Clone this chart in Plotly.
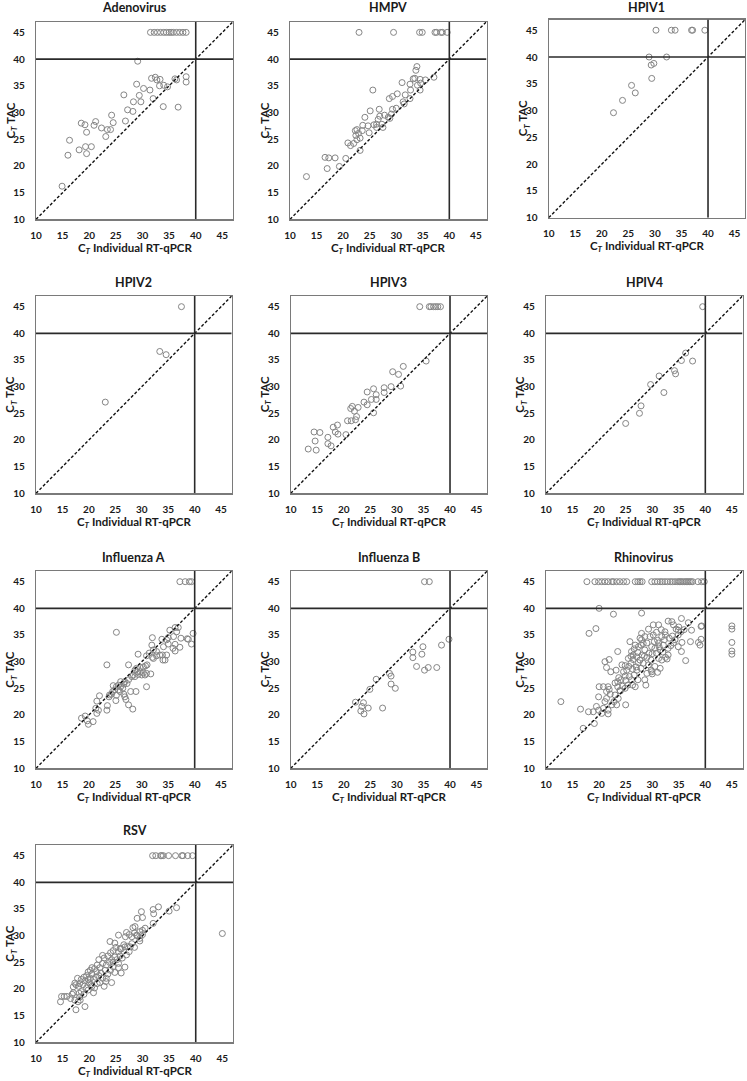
import plotly.graph_objects as go

# ---------------- data (Ct individual RT-qPCR, Ct TAC) ----------------
panel_names = ["Adenovirus", "HMPV", "HPIV1", "HPIV2", "HPIV3", "HPIV4",
               "Influenza A", "Influenza B", "Rhinovirus", "RSV"]

tick_vals = [10, 15, 20, 25, 30, 35, 40, 45]
axis_range = [10, 47]
cutoff = 40

adeno_pts = [(31.5, 45), (32.2, 45), (32.8, 45), (33.4, 45), (34.0, 45), (34.5, 45), (35.0, 45),
             (35.4, 45), (35.8, 45), (36.4, 45), (37.0, 45), (37.6, 45), (38.2, 45),
             (29.1, 39.6), (32.4, 36.6), (31.7, 36.4), (32.7, 36.1), (33.3, 36.2), (34.0, 35.1),
             (33.2, 35.0), (34.7, 34.8), (36.1, 36.3), (36.4, 36.1), (38.2, 36.7), (38.2, 35.7),
             (28.9, 35.3), (30.2, 34.5), (31.4, 34.2), (26.5, 33.3), (29.4, 33.2), (32.0, 32.6),
             (28.3, 32.0), (29.7, 32.0), (33.9, 31.1), (36.7, 31.0), (27.2, 30.5), (28.2, 30.2),
             (24.2, 29.5), (26.8, 28.4), (24.5, 28.1), (18.5, 28.0), (19.2, 27.7), (21.2, 28.3),
             (20.9, 27.6), (22.3, 27.1), (23.4, 26.8), (24.0, 26.8), (19.5, 26.3), (23.1, 25.5),
             (16.3, 24.8), (19.3, 23.6), (20.4, 23.6), (18.1, 23.0), (16.0, 22.0), (19.5, 22.3),
             (14.9, 16.2)]

hmpv_pts = [(23.0, 45), (29.5, 45), (34.4, 45), (34.9, 45), (37.3, 45), (37.6, 45), (38.4, 45),
            (38.7, 45), (39.6, 45),
            (33.9, 38.6), (33.7, 37.9), (33.5, 36.4), (33.2, 36.3), (35.5, 36.1), (34.5, 36.2),
            (37.1, 36.6), (31.1, 35.6), (34.6, 35.5), (32.6, 35.3), (34.0, 35.1), (25.6, 34.2),
            (32.7, 34.2), (34.5, 34.2), (31.7, 33.3), (30.2, 33.5), (29.3, 33.0), (28.7, 32.6),
            (32.6, 32.6), (31.3, 32.0), (31.5, 31.6), (25.1, 30.3), (30.0, 30.8), (29.3, 30.6),
            (26.8, 30.6), (29.1, 29.7), (27.8, 29.5), (26.9, 29.3), (26.6, 28.7), (24.1, 29.1),
            (28.5, 29.1), (28.8, 28.9), (23.7, 27.6), (24.7, 27.5), (25.8, 27.7), (26.3, 27.8),
            (27.3, 27.8), (27.5, 27.2), (26.3, 27.2), (24.9, 26.2), (22.6, 26.8), (22.3, 26.6),
            (23.6, 26.6), (22.9, 26.1), (22.4, 25.7), (23.2, 25.2), (22.6, 24.9), (22.0, 24.2),
            (20.9, 24.3), (21.4, 23.8), (23.2, 22.9), (16.6, 21.6), (17.3, 21.5), (18.5, 21.5),
            (20.5, 21.4), (17.0, 19.5), (19.3, 19.9), (13.1, 18.0)]

hpiv1_pts = [(30.2, 45), (33.1, 45), (33.8, 45), (36.9, 45), (37.1, 45), (39.4, 45),
             (28.9, 40.0), (32.2, 40.0), (29.8, 38.8), (29.3, 38.5), (29.4, 36.0), (25.6, 34.7),
             (26.3, 33.3), (23.9, 31.9), (22.2, 29.6)]

hpiv2_pts = [(37.5, 45), (33.4, 36.6), (34.6, 36.0), (23.1, 27.1)]

hpiv3_pts = [(34.3, 45), (36.1, 45), (36.4, 45), (36.9, 45), (37.3, 45), (37.7, 45), (38.2, 45),
             (35.5, 34.8), (31.2, 33.8), (29.2, 32.8), (30.3, 32.3), (30.7, 30.1), (28.9, 30.0),
             (27.6, 29.8), (27.6, 28.9), (25.6, 29.6), (24.4, 29.0), (26.1, 28.5), (26.1, 27.6),
             (25.2, 27.6), (23.8, 27.1), (24.4, 26.6), (21.6, 26.3), (21.3, 25.9), (22.7, 26.1),
             (22.0, 25.4), (25.6, 25.1), (22.4, 24.4), (22.2, 23.8), (20.7, 23.6), (21.4, 23.6),
             (20.4, 21.0), (18.8, 22.8), (18.0, 22.4), (18.9, 21.1), (18.4, 21.5), (14.4, 21.5),
             (15.5, 21.4), (17.0, 20.5), (17.0, 19.3), (17.6, 18.9), (14.6, 19.8), (14.8, 18.1),
             (13.3, 18.3)]

hpiv4_pts = [(39.5, 45), (36.3, 36.3), (35.5, 34.9), (37.6, 34.8), (34.2, 33.0), (34.4, 32.4),
             (31.3, 32.0), (29.7, 30.4), (32.2, 28.9), (27.9, 26.4), (27.6, 25.0), (25.0, 23.1)]

infa_pts = [(37.2, 45), (38.2, 45), (39.0, 45), (39.4, 45),
            (25.2, 35.5), (39.7, 35.3), (39.4, 33.3), (38.8, 34.2), (37.2, 32.7),
            (36.9, 36.4), (36.3, 36.4), (35.3, 35.9), (36.6, 35.6),
            (35.0, 34.5), (36.0, 34.7), (37.4, 34.4), (38.6, 34.3), (33.8, 34.2), (34.7, 34.1),
            (32.0, 34.5), (35.0, 33.3), (36.3, 33.25), (31.9, 33.1), (34.1, 32.8), (35.9, 32.5),
            (36.3, 32.0), (32.2, 32.2), (32.8, 31.9), (31.4, 31.6), (33.4, 31.25), (33.9, 31.25),
            (34.7, 31.25), (32.8, 31.1), (32.0, 30.8), (34.0, 30.3), (34.4, 30.3), (32.2, 30.6),
            (29.3, 31.4), (30.9, 31.1), (31.0, 29.4), (30.7, 29.2), (27.5, 29.4), (23.4, 29.4),
            (30.3, 29.0), (29.7, 28.9), (29.0, 28.75), (28.7, 28.4), (29.2, 28.1), (29.7, 28.1),
            (30.3, 27.9), (30.9, 27.8), (29.3, 27.6), (30.0, 27.5), (28.4, 27.5), (28.1, 27.2),
            (28.7, 27.2), (30.6, 27.5), (31.7, 27.7), (30.9, 25.3), (28.9, 24.4),
            (27.5, 26.6), (26.8, 26.25), (27.2, 25.9), (26.6, 25.8), (26.0, 26.25), (25.6, 25.6),
            (26.0, 25.3), (25.2, 25.3), (24.6, 25.5), (26.4, 25.0), (25.6, 24.7), (24.9, 24.7),
            (25.9, 24.4), (24.5, 24.4), (26.6, 23.9), (23.9, 23.75), (24.3, 23.9), (23.8, 23.4),
            (25.2, 23.7), (26.8, 23.4), (27.0, 22.9), (25.1, 22.7), (27.5, 21.9), (28.3, 21.1),
            (23.5, 21.75), (23.4, 20.9), (22.0, 23.6), (21.5, 22.6), (21.3, 21.25), (21.8, 20.9),
            (21.5, 20.3), (20.8, 18.75), (19.9, 18.25), (19.3, 19.8), (18.6, 19.4), (19.7, 18.9),
            (27.9, 24.4)]

infb_pts = [(35.2, 45), (36.1, 45), (39.8, 34.2), (38.4, 33.1), (34.9, 32.8), (33.0, 31.8),
            (34.7, 31.4), (33.0, 30.75), (33.7, 29.1), (35.2, 28.4), (35.9, 28.9), (37.5, 28.9),
            (28.6, 27.8), (28.9, 27.3), (28.9, 25.8), (29.7, 25.0), (26.1, 26.7), (24.9, 24.8),
            (22.2, 22.4), (23.7, 22.3), (23.4, 21.6), (24.6, 21.3), (23.2, 20.75), (23.8, 20.2),
            (27.3, 21.3)]

rhino_top_x = [17.7, 19.2, 19.9, 20.5, 21.1, 21.7, 22.4, 22.7, 23.3, 23.9, 24.6, 25.2, 26.8, 27.3,
               27.7, 28.1, 29.9, 30.5, 31.0, 31.5, 31.9, 32.4, 32.9, 33.4, 33.8, 34.3, 34.8, 35.1,
               35.4, 35.7, 36.1, 36.4, 36.7, 37.0, 37.3, 37.6, 38.6, 39.3, 39.8]
rhino_right_y = [36.7, 36.1, 33.6, 32.0, 31.4]
rhino_pts = [(20.0, 40.0), (22.7, 38.9), (28.0, 39.1), (18.1, 35.3), (19.4, 36.2), (12.8, 22.5),
             (16.5, 21.1), (17.0, 17.5), (19.1, 18.4), (18.0, 20.6), (18.9, 20.6), (19.9, 20.9),
             (20.5, 20.3), (19.5, 21.6), (20.8, 21.25), (21.7, 20.9), (21.7, 20.2), (23.3, 21.9),
             (25.0, 21.9), (19.9, 23.4), (21.1, 22.5), (22.4, 21.9), (21.4, 23.1), (20.0, 25.3),
             (20.8, 25.3), (21.7, 25.3), (21.9, 24.8), (21.4, 24.4), (22.1, 23.9), (23.0, 23.75),
             (23.6, 23.1), (23.9, 24.6), (23.5, 25.3), (24.4, 25.4), (24.9, 25.0), (25.4, 25.6),
             (21.1, 30.0), (21.9, 30.4), (21.4, 28.9), (22.2, 28.1), (23.2, 28.4), (23.5, 31.9),
             (24.3, 29.4), (24.9, 29.25), (24.6, 28.1), (24.9, 27.3), (23.7, 27.0), (23.5, 26.25),
             (24.1, 26.6), (25.8, 33.75), (26.1, 31.9), (25.5, 30.6), (26.4, 30.4), (26.0, 29.7),
             (26.6, 32.4), (27.1, 30.9), (27.4, 29.8), (26.3, 28.6), (27.1, 28.4), (26.6, 27.5),
             (25.7, 27.2), (26.1, 26.6), (26.3, 25.6), (26.8, 25.3), (27.3, 26.6), (28.0, 35.3),
             (27.7, 34.4), (28.3, 33.4), (28.6, 34.7), (29.3, 36.1), (30.2, 36.9), (31.2, 36.9),
             (28.6, 32.2), (28.1, 31.25), (29.0, 30.8), (29.4, 31.6), (29.8, 30.3), (27.7, 30.3),
             (28.3, 29.7), (27.9, 28.75), (29.3, 29.4), (29.0, 27.8), (29.9, 28.1), (28.6, 26.6),
             (28.8, 25.6), (29.8, 28.4), (30.4, 33.75), (30.8, 31.6), (31.3, 32.8), (31.8, 34.7),
             (31.7, 36.0), (32.4, 35.6), (32.1, 33.1), (31.2, 30.6), (30.5, 29.1), (31.5, 28.75),
             (31.8, 30.3), (32.5, 30.8), (33.0, 31.25), (33.0, 32.5), (32.3, 34.1), (33.2, 34.4),
             (32.5, 35.0), (33.0, 37.6), (33.7, 37.5), (34.0, 36.9), (34.5, 36.1), (34.9, 35.9),
             (35.5, 38.1), (35.4, 35.6), (34.9, 35.0), (34.3, 34.1), (35.6, 33.6), (34.9, 32.8),
             (35.5, 31.9), (36.8, 37.3), (37.4, 35.9), (39.2, 36.6), (39.3, 36.7), (37.2, 33.75),
             (38.7, 33.6), (39.2, 34.2), (39.0, 33.1), (36.3, 30.2), (27.4, 32.8), (26.8, 33.1),
             (28.0, 34.1), (29.6, 34.7), (29.9, 32.8), (30.5, 32.5), (31.5, 32.2), (27.3, 31.7),
             (26.4, 31.25), (25.2, 28.4), (25.6, 29.1), (27.9, 33.1), (31.0, 28.0), (30.0, 27.7),
             (32.8, 30.5), (33.5, 33.0), (34.0, 33.5), (30.2, 35.0), (29.0, 33.5), (28.5, 31.0),
             (30.0, 31.5), (31.0, 34.0), (32.0, 31.8), (33.8, 34.8), (35.0, 36.5), (36.0, 36.0),
             (26.0, 31.0), (27.0, 29.0), (25.0, 26.5), (24.0, 24.5), (22.8, 22.5), (23.0, 26.0),
             (30.8, 35.5), (31.2, 33.5)]

rsv_top_x = [31.9, 32.5, 33.4, 33.6, 33.9, 34.9, 36.2, 37.4, 37.6, 38.5, 39.4]
rsv_pts = [(45.0, 30.4),
           (36.4, 35.25), (35.0, 34.6), (33.0, 35.4), (32.0, 34.9), (32.1, 34.1), (29.8, 34.5),
           (30.0, 33.4), (29.0, 33.25), (32.0, 32.3), (30.5, 31.4), (29.5, 30.75), (28.6, 31.7),
           (28.0, 29.8), (27.0, 30.6), (25.5, 30.1), (26.8, 29.8), (29.5, 29.5), (28.9, 30.1),
           (23.9, 28.9), (24.8, 28.6), (26.7, 27.9), (25.8, 27.6), (27.7, 27.9), (27.0, 26.4),
           (26.7, 24.1), (25.5, 24.8), (24.8, 23.1), (23.1, 21.4), (21.4, 23.25), (20.8, 19.3),
           (20.3, 20.75), (18.1, 19.2), (17.5, 16.1), (19.2, 16.7), (14.8, 18.6), (15.3, 18.6),
           (15.8, 18.6), (14.6, 17.6), (17.0, 20.4), (17.3, 21.1), (17.0, 19.3), (18.3, 17.9),
           (17.3, 17.9), (17.9, 17.6),
           (28.2, 31.5), (28.5, 30.5), (29.0, 30.0), (30.0, 31.0), (27.5, 30.2), (28.0, 28.5),
           (27.2, 28.0), (26.5, 28.3), (26.0, 27.5), (25.5, 27.0), (25.0, 27.8), (24.5, 27.2),
           (24.0, 26.8), (24.8, 26.0), (25.2, 25.5), (24.2, 25.5), (23.5, 26.2), (23.8, 25.0),
           (23.2, 24.5), (24.5, 24.2), (22.8, 25.8), (22.5, 24.8), (22.0, 24.0), (23.0, 23.5),
           (22.2, 23.0), (21.5, 24.5), (21.0, 23.8), (21.8, 22.5), (21.2, 22.2), (20.5, 22.8),
           (20.8, 21.8), (20.2, 22.0), (20.0, 21.2), (19.5, 22.5), (19.8, 21.8), (19.2, 21.5),
           (19.0, 22.2), (18.5, 21.8), (18.8, 20.8), (18.2, 21.0), (18.0, 20.5), (19.5, 20.2),
           (20.5, 20.5), (21.5, 21.0), (22.5, 22.0), (23.5, 22.8), (24.0, 23.5), (17.8, 22.0),
           (17.5, 20.8), (18.5, 19.5), (19.0, 19.0), (19.8, 19.8), (21.0, 20.2), (22.0, 21.2),
           (24.5, 25.0), (25.8, 26.2), (26.2, 25.8), (27.5, 27.0), (28.5, 27.8), (29.5, 29.0),
           (30.0, 30.2), (22.5, 26.3), (21.8, 25.5), (20.5, 24.0), (23.2, 22.0), (24.2, 21.2),
           (25.5, 24.0), (26.0, 23.0), (22.8, 20.5), (19.8, 23.2), (20.2, 23.5), (18.2, 18.5),
           (16.8, 19.0), (16.5, 18.2)]

series = {
    "Adenovirus": adeno_pts,
    "HMPV": hmpv_pts,
    "HPIV1": hpiv1_pts,
    "HPIV2": hpiv2_pts,
    "HPIV3": hpiv3_pts,
    "HPIV4": hpiv4_pts,
    "Influenza A": infa_pts,
    "Influenza B": infb_pts,
    "Rhinovirus": [(x, 45) for x in rhino_top_x] + [(45, y) for y in rhino_right_y] + rhino_pts,
    "RSV": [(x, 45) for x in rsv_top_x] + rsv_pts,
}

# ---------------- layout (pixel boxes of each plot area) ----------------
W, H = 747, 1081
boxes = {  # left, right, top, bottom in pixels
    "Adenovirus": (36, 233, 21.7, 219.3),
    "HMPV": (290, 486.5, 21.7, 219.3),
    "HPIV1": (548.7, 745.2, 19.5, 217.7),
    "HPIV2": (36, 231.7, 296, 493.3),
    "HPIV3": (290.7, 487.2, 296, 493.3),
    "HPIV4": (546, 742.5, 296, 493.3),
    "Influenza A": (36, 231.7, 571, 768.3),
    "Influenza B": (290.7, 487.2, 571, 768.3),
    "Rhinovirus": (546, 742.5, 571, 768.3),
    "RSV": (36, 233, 845, 1042.3),
}

FONT = "Lato"
TXT = "#1a1a1a"
MARK = "#858585"
FRAME = "#7a7a7a"


def px(x):
    return x / W


def py(y):
    return 1 - y / H


fig = go.Figure()
shapes = []
annotations = []
layout_axes = {}

for i, name in enumerate(panel_names, start=1):
    pts = series[name]
    xs = [p[0] for p in pts]
    ys = [p[1] for p in pts]
    xa = "x" if i == 1 else f"x{i}"
    ya = "y" if i == 1 else f"y{i}"
    fig.add_trace(go.Scatter(
        x=xs, y=ys, mode="markers", xaxis=xa, yaxis=ya, showlegend=False,
        marker=dict(symbol="circle-open", size=6, color=MARK, line=dict(width=1, color=MARK)),
        hoverinfo="skip"))
    L, R, T, B = boxes[name]
    axcommon = dict(range=axis_range, tickmode="array", tickvals=tick_vals,
                    showgrid=False, zeroline=False, showline=True, mirror=True,
                    linecolor=FRAME, linewidth=1.2, ticks="", automargin=False,
                    fixedrange=True,
                    tickfont=dict(family=FONT, size=10, color=TXT, weight="bold"))
    layout_axes["xaxis" if i == 1 else f"xaxis{i}"] = dict(
        axcommon, domain=[px(L), px(R)], anchor=ya, ticklabelstandoff=6)
    layout_axes["yaxis" if i == 1 else f"yaxis{i}"] = dict(
        axcommon, domain=[py(B), py(T)], anchor=xa, ticklabelstandoff=8)

    # reference lines
    shapes.append(dict(type="line", xref=xa, yref=ya, x0=axis_range[0], y0=axis_range[0],
                       x1=axis_range[1], y1=axis_range[1],
                       line=dict(color="#111111", width=1.4, dash="3px,2px")))
    shapes.append(dict(type="line", xref=xa, yref=ya, x0=cutoff, x1=cutoff,
                       y0=axis_range[0], y1=axis_range[1], line=dict(color="#2a2a2a", width=1.6)))
    shapes.append(dict(type="line", xref=xa, yref=ya, y0=cutoff, y1=cutoff,
                       x0=axis_range[0], x1=axis_range[1], line=dict(color="#2a2a2a", width=1.6)))

    cx = (L + R) / 2
    cy = (T + B) / 2
    annotations.append(dict(text=f"<b>{name}</b>", xref="paper", yref="paper",
                            x=px(cx), y=py(max(T - 14, 7.5)), xanchor="center", yanchor="middle",
                            showarrow=False, font=dict(family=FONT, size=12.5, color=TXT)))
    annotations.append(dict(text="<b>C<sub><i>T</i></sub> Individual RT-qPCR</b>", xref="paper",
                            yref="paper", x=px(cx), y=py(B + 29), xanchor="center",
                            yanchor="middle", showarrow=False,
                            font=dict(family=FONT, size=11.5, color=TXT)))
    annotations.append(dict(text="<b>C<sub><i>T</i></sub> TAC</b>", xref="paper", yref="paper",
                            x=px(L - 25), y=py(cy), xanchor="center", yanchor="middle",
                            textangle=-90, showarrow=False,
                            font=dict(family=FONT, size=11.5, color=TXT)))

fig.update_layout(
    width=W, height=H, margin=dict(l=0, r=0, t=0, b=0),
    paper_bgcolor="white", plot_bgcolor="white", hovermode=False,
    shapes=shapes, annotations=annotations, **layout_axes)

# remove the default 8px page margin so the figure sits at the window's top-left corner
fig.write_html("out.html", config={"displayModeBar": False, "staticPlot": True},
               post_script="document.body.style.margin='0';")
